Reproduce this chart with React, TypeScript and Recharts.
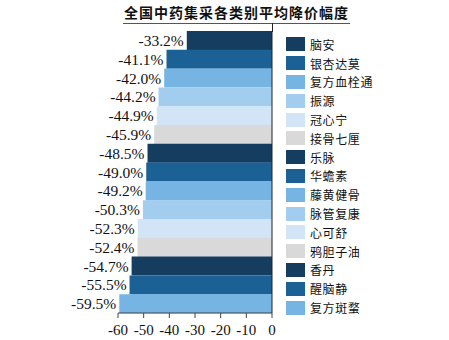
import React from "react";
import { BarChart, Bar, XAxis, YAxis, Cell, LabelList } from "recharts";

const drugs = [
  "脑安", "银杏达莫", "复方血栓通", "振源", "冠心宁", "接骨七厘", "乐脉", "华蟾素",
  "藤黄健骨", "脉管复康", "心可舒", "鸦胆子油", "香丹", "醒脑静", "复方斑蝥",
];
const declines = [-33.2, -41.1, -42.0, -44.2, -44.9, -45.9, -48.5, -49.0, -49.2, -50.3, -52.3, -52.4, -54.7, -55.5, -59.5];
const xTicks = [-60, -50, -40, -30, -20, -10, 0];
const palette = ["#143d5f", "#1c6195", "#75b4e3", "#a3cdef", "#d1e5f6", "#d9d9d9"];

const data = drugs.map((name, i) => ({ name, value: declines[i] }));

const serif = "'Liberation Serif', 'Times New Roman', serif";
const cjk = "'Noto Sans CJK SC', sans-serif";

function LegendList() {
  return (
    <div style={{ position: "absolute", left: 286, top: 35, display: "flex", flexDirection: "column" }}>
      {drugs.map((d, i) => (
        <div key={d} style={{ display: "flex", alignItems: "center", height: 18.8 }}>
          <span style={{ width: 19, height: 14, background: palette[i % 6], display: "inline-block", marginRight: 5 }} />
          <span style={{ fontFamily: cjk, fontSize: 12, letterSpacing: 0.6, color: "#111" }}>{d}</span>
        </div>
      ))}
    </div>
  );
}

export default function App() {
  return (
    <div style={{ position: "absolute", left: 0, top: 0, width: 449, height: 340, background: "#fff" }}>
      <div style={{ position: "absolute", left: 118, top: 3, width: 237, textAlign: "center", fontFamily: cjk, fontWeight: 700, fontSize: 14, letterSpacing: 1, color: "#111", lineHeight: "18px" }}>
        全国中药集采各类别平均降价幅度
      </div>
      <div style={{ position: "absolute", left: 123, top: 23, width: 227, height: 1, background: "#555" }} />
      <div style={{ position: "absolute", left: 272, top: 23, width: 1, height: 9, background: "#222" }} />
      <BarChart
        width={449}
        height={340}
        data={data}
        layout="vertical"
        barCategoryGap={0}
        margin={{ top: 31, right: 176, bottom: 0, left: 118 }}
      >
        <XAxis
          type="number"
          domain={[-60, 0]}
          ticks={xTicks}
          allowDataOverflow
          height={27}
          tick={{ fill: "#111", fontSize: 15, fontFamily: serif, dy: 4 }}
          axisLine={{ stroke: "#444" }}
          tickLine={{ stroke: "#444" }}
          tickSize={5}
        />
        <YAxis type="category" dataKey="name" orientation="right" width={1} tick={false} axisLine={{ stroke: "#222" }} tickLine={false} />
        <Bar dataKey="value" isAnimationActive={false}>
          {data.map((d, i) => (
            <Cell key={d.name} fill={palette[i % 6]} />
          ))}
          <LabelList
            dataKey="value"
            position="right"
            offset={3}
            formatter={(v: number) => `${v.toFixed(1)}%`}
            style={{ fill: "#111", fontSize: 15.5, fontFamily: serif }}
          />
        </Bar>
      </BarChart>
      <LegendList />
    </div>
  );
}
